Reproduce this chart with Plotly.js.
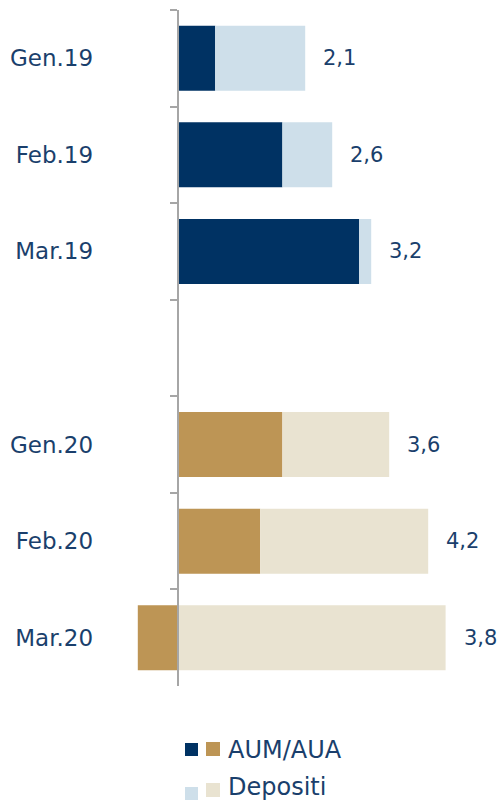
<!DOCTYPE html>
<html>
<head>
<meta charset="utf-8">
<script src="https://cdn.plot.ly/plotly-3.0.1.min.js"></script>
<style>html,body{margin:0;padding:0;background:#fff;}#chart{width:500px;height:803px;}</style>
</head>
<body>
<div id="chart"></div>
<script>
// Data
const categories = ["Gen.19", "Feb.19", "Mar.19", " ", "Gen.20", "Feb.20", "Mar.20"];
const aumAua = [0.62, 1.74, 3.02, null, 1.74, 1.37, -0.67];
const depositi = [1.50, 0.83, 0.20, null, 1.78, 2.80, 4.46];
const totalLabels = ["2,1", "2,6", "3,2", "", "3,6", "4,2", "3,8"];
const years = ["2019", "2019", "2019", "", "2020", "2020", "2020"];

const colorsAum = {"2019": "#003263", "2020": "#BD9555", "": "#fff"};
const colorsDep = {"2019": "#CEDFEA", "2020": "#E9E3D1", "": "#fff"};
const textColor = "#1A3F6C";
const FONT = "DejaVu Sans";

const traces = [
  {
    type: "bar", orientation: "h", name: "AUM/AUA",
    y: categories, x: aumAua,
    marker: {color: years.map(y => colorsAum[y])},
    hoverinfo: "x+y"
  },
  {
    type: "bar", orientation: "h", name: "Depositi",
    y: categories, x: depositi,
    marker: {color: years.map(y => colorsDep[y])},
    hoverinfo: "x+y"
  }
];

const W = 500, H = 803, L = 118, R = 2, T = 10, B = 117;
const pw = W - L - R, ph = H - T - B;
const px = v => (v - L) / pw;
const py = v => (H - B - v) / ph;

const annotations = categories.map((c, i) => {
  if (!totalLabels[i]) return null;
  const pos = Math.max(0, aumAua[i] || 0) + Math.max(0, depositi[i] || 0);
  return {
    x: pos, y: c, xref: "x", yref: "y", text: totalLabels[i],
    showarrow: false, xanchor: "left", yanchor: "middle", xshift: 16,
    font: {family: FONT, size: 21, color: textColor}
  };
}).filter(a => a);

// custom legend
const legendItems = [
  {text: "AUM/AUA", cy: 750, sq: [[185, 198, 743, 756, colorsAum["2019"]], [206, 220, 742, 756, colorsAum["2020"]]]},
  {text: "Depositi", cy: 787, sq: [[185, 198, 787, 800, colorsDep["2019"]], [206, 220, 783, 797, colorsDep["2020"]]]}
];
const shapes = [];
legendItems.forEach(it => {
  it.sq.forEach(s => {
    shapes.push({type: "rect", xref: "paper", yref: "paper",
      x0: px(s[0]), x1: px(s[1]), y0: py(s[3]), y1: py(s[2]),
      fillcolor: s[4], line: {width: 0}});
  });
  annotations.push({xref: "paper", yref: "paper", x: px(226), y: py(it.cy),
    xanchor: "left", yanchor: "middle", showarrow: false, text: it.text,
    font: {family: FONT, size: 24, color: textColor}});
});

const layout = {
  width: W, height: H,
  margin: {l: L, r: R, t: T, b: B},
  paper_bgcolor: "#fff", plot_bgcolor: "#fff",
  barmode: "relative", bargap: 0.327,
  showlegend: false,
  font: {family: FONT, color: textColor},
  xaxis: {range: [-1, pw / 60 - 1], visible: false, showgrid: false, zeroline: false, fixedrange: true},
  yaxis: {
    type: "category", categoryorder: "array", categoryarray: categories,
    range: [6.5, -0.5], anchor: "free", position: px(177.7),
    showline: true, linecolor: "#A6A6A6", linewidth: 2,
    ticks: "outside", tickson: "boundaries", ticklen: 7, tickcolor: "#A6A6A6", tickwidth: 2,
    showgrid: false, zeroline: false, automargin: false,
    ticklabelstandoff: 79,
    tickfont: {family: FONT, size: 23, color: textColor}
  },
  shapes: shapes,
  annotations: annotations
};

Plotly.newPlot("chart", traces, layout, {displayModeBar: false, staticPlot: true});
</script>
</body>
</html>
